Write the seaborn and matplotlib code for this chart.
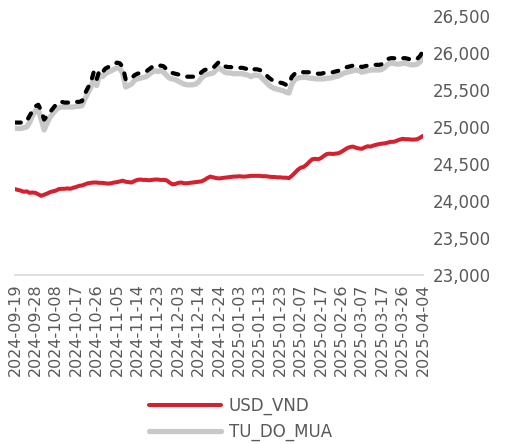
import numpy as np
import pandas as pd
import matplotlib
matplotlib.use("Agg")
import matplotlib.pyplot as plt
import seaborn as sns
from matplotlib.ticker import StrMethodFormatter


# DATA

tick_labels = [
    "2024-09-19", "2024-09-28", "2024-10-08", "2024-10-17", "2024-10-26",
    "2024-11-05", "2024-11-14", "2024-11-23", "2024-12-03", "2024-12-14",
    "2024-12-24", "2025-01-03", "2025-01-13", "2025-01-23", "2025-02-07",
    "2025-02-17", "2025-02-26", "2025-03-07", "2025-03-17", "2025-03-26",
    "2025-04-04",
]

# one row per tick interval (7 observations each)
usd_vnd = [
    24160, 24150, 24140, 24125, 24130, 24110, 24115,
    24110, 24090, 24070, 24085, 24100, 24120, 24130,
    24140, 24160, 24165, 24165, 24170, 24165, 24180,
    24190, 24205, 24210, 24225, 24240, 24245, 24250,
    24250, 24245, 24245, 24240, 24235, 24240, 24250,
    24255, 24265, 24275, 24260, 24255, 24250, 24270,
    24285, 24290, 24285, 24285, 24280, 24285, 24290,
    24290, 24285, 24285, 24280, 24250, 24225, 24230,
    24245, 24250, 24240, 24240, 24245, 24250, 24255,
    24260, 24265, 24285, 24310, 24330, 24320, 24310,
    24305, 24310, 24315, 24320, 24325, 24330, 24330,
    24335, 24330, 24330, 24335, 24340, 24340, 24340,
    24340, 24335, 24335, 24330, 24325, 24325, 24320,
    24320, 24315, 24315, 24310, 24340, 24380, 24420,
    24450, 24460, 24490, 24530, 24565, 24570, 24565,
    24580, 24610, 24635, 24640, 24635, 24640, 24645,
    24665, 24690, 24715, 24730, 24735, 24720, 24710,
    24705, 24725, 24740, 24735, 24750, 24760, 24770,
    24775, 24780, 24790, 24800, 24800, 24815, 24830,
    24840, 24835, 24835, 24830, 24830, 24835, 24855,
    24880,
]

tu_do_mua = [
    24980, 24980, 24980, 24990, 25000, 25060, 25150,
    25220, 25230, 25100, 24960, 25050, 25130, 25180,
    25230, 25260, 25270, 25270, 25270, 25270, 25270,
    25280, 25280, 25290, 25380, 25460, 25530, 25660,
    25560, 25700, 25680, 25720, 25740, 25760, 25780,
    25800, 25790, 25720, 25540, 25560, 25580, 25630,
    25650, 25660, 25670, 25680, 25710, 25740, 25760,
    25750, 25760, 25740, 25700, 25660, 25650, 25640,
    25620, 25600, 25580, 25570, 25570, 25570, 25580,
    25610, 25660, 25700, 25710, 25720, 25730, 25770,
    25800, 25770, 25740, 25730, 25730, 25720, 25720,
    25720, 25720, 25710, 25700, 25680, 25700, 25700,
    25690, 25650, 25610, 25570, 25540, 25520, 25510,
    25500, 25490, 25470, 25460, 25580, 25640, 25660,
    25670, 25670, 25670, 25660, 25660, 25650, 25650,
    25650, 25650, 25660, 25660, 25670, 25680, 25690,
    25710, 25730, 25740, 25750, 25760, 25770, 25760,
    25740, 25750, 25760, 25770, 25770, 25770, 25770,
    25780, 25810, 25850, 25860, 25860, 25850, 25850,
    25860, 25860, 25850, 25840, 25840, 25850, 25880,
    25950,
]

tu_do_ban = [
    25060, 25060, 25060, 25060, 25080, 25150, 25220,
    25280, 25300, 25220, 25100, 25150, 25200, 25250,
    25300, 25340, 25340, 25330, 25330, 25330, 25330,
    25340, 25340, 25350, 25450, 25530, 25600, 25740,
    25640, 25770, 25740, 25790, 25810, 25830, 25850,
    25870, 25860, 25810, 25640, 25650, 25660, 25700,
    25720, 25730, 25740, 25750, 25780, 25810, 25830,
    25820, 25830, 25820, 25780, 25740, 25730, 25720,
    25710, 25700, 25690, 25680, 25680, 25680, 25680,
    25700, 25740, 25770, 25780, 25790, 25800, 25840,
    25880, 25850, 25820, 25810, 25810, 25800, 25800,
    25800, 25800, 25790, 25780, 25760, 25780, 25780,
    25770, 25740, 25710, 25670, 25640, 25620, 25610,
    25600, 25590, 25570, 25580, 25680, 25720, 25740,
    25750, 25740, 25740, 25740, 25730, 25730, 25720,
    25720, 25730, 25730, 25740, 25740, 25750, 25760,
    25780, 25800, 25810, 25820, 25830, 25840, 25830,
    25810, 25820, 25830, 25840, 25840, 25840, 25840,
    25850, 25880, 25920, 25930, 25930, 25920, 25920,
    25930, 25930, 25920, 25910, 25910, 25920, 25960,
    26030,
]

TICK_STEP = 7


# STYLE

sns.set_style("white")
plt.rcParams["font.family"] = ["DejaVu Sans"]

TEXT_COLOR = "#595959"


# PLOT

df = pd.DataFrame({
    "idx": np.arange(len(usd_vnd)),
    "USD_VND": usd_vnd,
    "TU_DO_MUA": tu_do_mua,
    "TU_DO_BAN": tu_do_ban,
})

fig = plt.figure(figsize=(5.07, 4.44), dpi=100)
ax = fig.add_axes([15 / 507, 1 - 275 / 444, 408 / 507, 259 / 444])

sns.lineplot(
    data=df, x="idx", y="USD_VND", ax=ax,
    color="#d7202d", linewidth=2.9, label="USD_VND"
)

sns.lineplot(
    data=df, x="idx", y="TU_DO_MUA", ax=ax,
    color="#c8c8c8", linewidth=3.8, label="TU_DO_MUA"
)

# third series: its legend entry falls below the figure in the reference
sns.lineplot(
    data=df, x="idx", y="TU_DO_BAN", ax=ax,
    color="black", linewidth=3.0, legend=False
)
ax.lines[-1].set_dashes([1.4, 2.2])
ax.lines[-1].set_dash_capstyle("round")

ax.set_xlim(0, len(usd_vnd) - 1)
ax.set_ylim(23000, 26500)

ax.set_xticks(np.arange(0, len(usd_vnd), TICK_STEP))
ax.set_xticklabels(tick_labels, rotation=90)

ax.set_yticks(np.arange(23000, 26501, 500))
ax.yaxis.set_major_formatter(StrMethodFormatter("{x:,.0f}"))
ax.yaxis.tick_right()

ax.tick_params(axis="both", length=0, labelsize=12, colors=TEXT_COLOR)
ax.tick_params(axis="y", pad=7)
ax.tick_params(axis="x", pad=6, labelsize=11.5)

ax.set_xlabel("")
ax.set_ylabel("")

for side in ["top", "left", "right"]:
    ax.spines[side].set_visible(False)

ax.spines["bottom"].set_color("#d9d9d9")
ax.spines["bottom"].set_linewidth(1.2)

ax.legend(
    loc="upper left",
    bbox_to_anchor=(149 / 507, 1 - 397 / 444),
    bbox_transform=fig.transFigure,
    frameon=False,
    fontsize=12,
    labelcolor=TEXT_COLOR,
    handlelength=4.3,
    handletextpad=0.5,
    labelspacing=0.45,
    borderpad=0,
    borderaxespad=0,
)

fig.savefig("out.png", dpi=100)
